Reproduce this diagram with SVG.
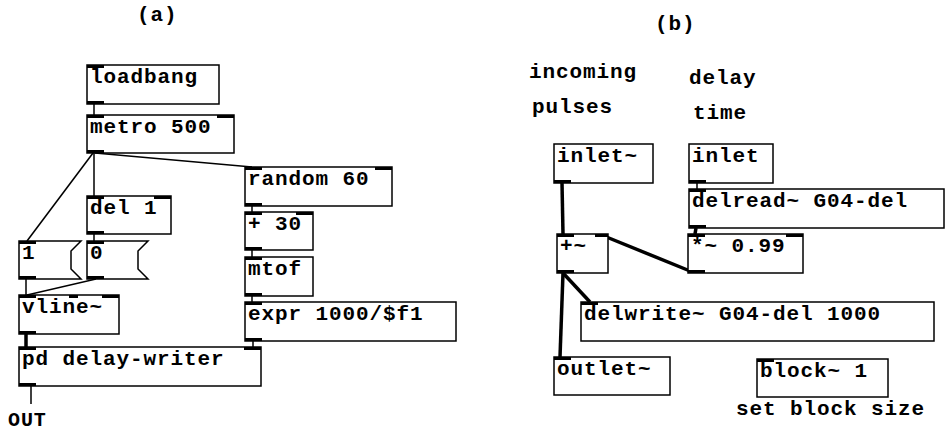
<svg xmlns="http://www.w3.org/2000/svg" width="946" height="431" viewBox="0 0 946 431">
<style>
.box{fill:#fff;stroke:#000;stroke-width:1.5}
.io{fill:#000}
.t{font-family:"Liberation Mono","DejaVu Sans Mono",monospace;font-weight:bold;font-size:21px;letter-spacing:0.9px;fill:#000}
.c{stroke:#000;stroke-width:1.5;fill:none}
.s{stroke:#000;stroke-width:3.5;fill:none}
</style>
<rect width="946" height="431" fill="#fff"/>
<g id="labels">
<text class="t" x="137" y="21">(a)</text>
<text class="t" x="655" y="30">(b)</text>
<text class="t" x="529" y="78">incoming</text>
<text class="t" x="532" y="113">pulses</text>
<text class="t" x="689" y="84">delay</text>
<text class="t" x="693" y="119">time</text>
<text class="t" x="8" y="426" style="font-size:20px">OUT</text>
<text class="t" x="736" y="415">set block size</text>
</g>
<g id="connectors">
<line class="c" x1="94" y1="104" x2="94" y2="115"/>
<line class="c" x1="95" y1="153" x2="252" y2="167"/>
<line class="c" x1="94" y1="153" x2="94" y2="196"/>
<line class="c" x1="93" y1="153" x2="27" y2="241"/>
<line class="c" x1="94" y1="234" x2="94" y2="241"/>
<line class="c" x1="26" y1="279" x2="26" y2="295"/>
<line class="c" x1="96" y1="279" x2="27" y2="295"/>
<line class="c" x1="252" y1="206" x2="252" y2="212"/>
<line class="c" x1="252" y1="250" x2="252" y2="257"/>
<line class="c" x1="252" y1="296" x2="252" y2="302"/>
<line class="c" x1="253" y1="341" x2="253" y2="347"/>
<line class="c" x1="31" y1="386" x2="31" y2="404"/>
<line class="c" x1="697" y1="183" x2="697" y2="189"/>
<line class="s" x1="26" y1="334" x2="26" y2="347"/>
<line class="s" x1="562" y1="183" x2="563" y2="234"/>
<line class="s" x1="690" y1="271" x2="604" y2="236"/>
<line class="s" x1="563" y1="273" x2="590" y2="302"/>
<line class="s" x1="563" y1="273" x2="560" y2="357"/>
<line class="s" x1="696" y1="228" x2="695" y2="234"/>
</g>
<g id="loadbang">
<rect class="box" x="87" y="65" width="132" height="39"/>
<rect class="io" x="87" y="65" width="17" height="3"/><rect class="io" x="87" y="101" width="17" height="3"/>
<text class="t" x="90" y="83">loadbang</text>
</g>
<g id="metro">
<rect class="box" x="87" y="115" width="147" height="38"/>
<rect class="io" x="87" y="115" width="17" height="3"/><rect class="io" x="217" y="115" width="17" height="3"/><rect class="io" x="87" y="150" width="17" height="3"/>
<text class="t" x="90" y="133">metro 500</text>
</g>
<g id="random">
<rect class="box" x="245" y="167" width="147" height="39"/>
<rect class="io" x="245" y="167" width="17" height="3"/><rect class="io" x="375" y="167" width="17" height="3"/><rect class="io" x="245" y="203" width="17" height="3"/>
<text class="t" x="248" y="185">random 60</text>
</g>
<g id="del">
<rect class="box" x="87" y="196" width="84" height="38"/>
<rect class="io" x="87" y="196" width="17" height="3"/><rect class="io" x="154" y="196" width="17" height="3"/><rect class="io" x="87" y="231" width="17" height="3"/>
<text class="t" x="90" y="214">del 1</text>
</g>
<g id="msg1">
<path class="box" d="M19 241 H81 L71 251 V269 L81 279 H19 Z"/>
<rect class="io" x="19" y="241" width="17" height="3"/><rect class="io" x="19" y="276" width="17" height="3"/>
<text class="t" x="22" y="259">1</text>
</g>
<g id="msg0">
<path class="box" d="M87 241 H148 L138 251 V269 L148 279 H87 Z"/>
<rect class="io" x="87" y="241" width="17" height="3"/><rect class="io" x="87" y="276" width="17" height="3"/>
<text class="t" x="90" y="259">0</text>
</g>
<g id="vline">
<rect class="box" x="19" y="295" width="100" height="39"/>
<rect class="io" x="19" y="295" width="17" height="3"/><rect class="io" x="69" y="295" width="9" height="3"/><rect class="io" x="102" y="295" width="17" height="3"/><rect class="io" x="19" y="331" width="17" height="3"/>
<text class="t" x="22" y="313">vline~</text>
</g>
<g id="pd">
<rect class="box" x="19" y="347" width="242" height="39"/>
<rect class="io" x="19" y="347" width="17" height="3"/><rect class="io" x="244" y="347" width="17" height="3"/><rect class="io" x="19" y="383" width="17" height="3"/>
<text class="t" x="22" y="365">pd delay-writer</text>
</g>
<g id="plus30">
<rect class="box" x="245" y="212" width="68" height="38"/>
<rect class="io" x="245" y="212" width="17" height="3"/><rect class="io" x="296" y="212" width="17" height="3"/><rect class="io" x="245" y="247" width="17" height="3"/>
<text class="t" x="248" y="230">+ 30</text>
</g>
<g id="mtof">
<rect class="box" x="245" y="257" width="68" height="39"/>
<rect class="io" x="245" y="257" width="17" height="3"/><rect class="io" x="245" y="293" width="17" height="3"/>
<text class="t" x="248" y="275">mtof</text>
</g>
<g id="expr">
<rect class="box" x="245" y="302" width="211" height="39"/>
<rect class="io" x="245" y="302" width="17" height="3"/><rect class="io" x="245" y="338" width="17" height="3"/>
<text class="t" x="248" y="320">expr 1000/$f1</text>
</g>
<g id="inletsig">
<rect class="box" x="554" y="144" width="99" height="39"/>
<rect class="io" x="554" y="180" width="17" height="3"/>
<text class="t" x="557" y="162">inlet~</text>
</g>
<g id="inlet">
<rect class="box" x="689" y="144" width="84" height="39"/>
<rect class="io" x="689" y="180" width="17" height="3"/>
<text class="t" x="692" y="162">inlet</text>
</g>
<g id="delread">
<rect class="box" x="689" y="189" width="255" height="39"/>
<rect class="io" x="689" y="189" width="17" height="3"/><rect class="io" x="689" y="225" width="17" height="3"/>
<text class="t" x="692" y="207">delread~ G04-del</text>
</g>
<g id="mul">
<rect class="box" x="688" y="234" width="115" height="39"/>
<rect class="io" x="688" y="234" width="17" height="3"/><rect class="io" x="786" y="234" width="17" height="3"/><rect class="io" x="688" y="270" width="17" height="3"/>
<text class="t" x="691" y="252">*~ 0.99</text>
</g>
<g id="plus">
<rect class="box" x="557" y="234" width="51" height="39"/>
<rect class="io" x="557" y="234" width="17" height="3"/><rect class="io" x="595" y="234" width="13" height="3"/><rect class="io" x="557" y="270" width="17" height="3"/>
<text class="t" x="560" y="252">+~</text>
</g>
<g id="delwrite">
<rect class="box" x="581" y="302" width="353" height="39"/>
<rect class="io" x="581" y="302" width="17" height="3"/>
<text class="t" x="584" y="320">delwrite~ G04-del 1000</text>
</g>
<g id="outlet">
<rect class="box" x="554" y="357" width="116" height="38"/>
<rect class="io" x="554" y="357" width="17" height="3"/>
<text class="t" x="557" y="375">outlet~</text>
</g>
<g id="block">
<rect class="box" x="757" y="359" width="131" height="38"/>
<rect class="io" x="757" y="359" width="17" height="3"/>
<text class="t" x="760" y="377">block~ 1</text>
</g>
</svg>
